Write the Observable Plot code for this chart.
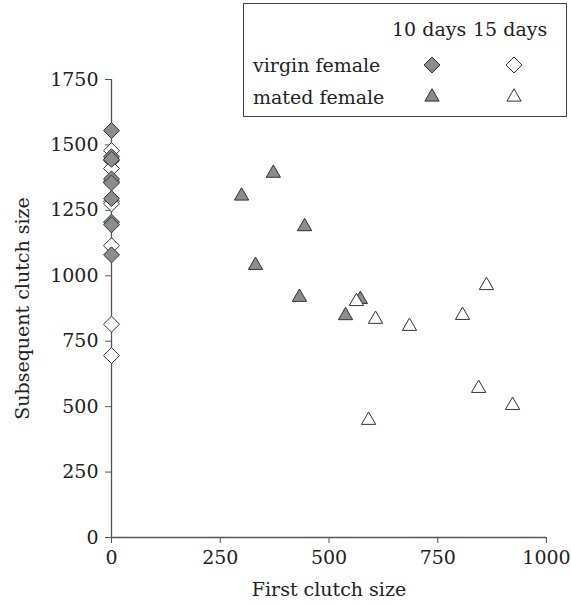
<!DOCTYPE html>
<html>
<head>
<meta charset="utf-8">
<script src="https://cdn.jsdelivr.net/npm/d3@7"></script>
<script src="https://cdn.jsdelivr.net/npm/@observablehq/plot@0.6"></script>
<style>
  body { margin: 0; background: #fff; }
  #wrap { position: relative; width: 571px; height: 605px; font-family: "DejaVu Serif", serif; color: #222; }
  #legend { position: absolute; left: 243px; top: 3px; width: 322px; height: 112px; border: 1px solid #444; background: #fff; font-size: 19px; }
  #legend .t { position: absolute; white-space: nowrap; line-height: 1; }
  #legend svg { position: absolute; overflow: visible; }
</style>
</head>
<body>
<div id="wrap"></div>
<script>
// Data
const xTicks = [0, 250, 500, 750, 1000];
const yTicks = [0, 250, 500, 750, 1000, 1250, 1500, 1750];

const virgin10First = [0, 0, 0, 0, 0, 0, 0, 0, 0];
const virgin10Subsequent = [1555, 1455, 1445, 1370, 1355, 1295, 1205, 1195, 1080];

const virgin15First = [0, 0, 0, 0, 0, 0, 0, 0, 0];
const virgin15Subsequent = [1478, 1440, 1410, 1360, 1285, 1275, 1115, 815, 695];

const mated10First = [299, 372, 444, 331, 432, 572, 538];
const mated10Subsequent = [1305, 1392, 1188, 1040, 918, 910, 848];

const mated15First = [563, 607, 685, 807, 862, 844, 922, 591];
const mated15Subsequent = [902, 834, 807, 849, 963, 570, 505, 448];

const legendCols = ["10 days", "15 days"];
const legendRows = ["virgin female", "mated female"];

const toRows = (xs, ys) => xs.map((x, i) => ({x, y: ys[i]}));
const v10 = toRows(virgin10First, virgin10Subsequent);
const v15 = toRows(virgin15First, virgin15Subsequent);
const m10 = toRows(mated10First, mated10Subsequent);
const m15 = toRows(mated15First, mated15Subsequent);

const fillGrey = "#8c8c8c";
const strokeCol = "#333";

const chart = Plot.plot({
  width: 571,
  height: 605,
  marginLeft: 111,
  marginRight: 25,
  marginTop: 79,
  marginBottom: 68,
  style: { fontFamily: "DejaVu Serif", fontSize: "19px", color: "#222", background: "transparent" },
  x: { domain: [0, 1000] },
  y: { domain: [0, 1750] },
  marks: [
    Plot.ruleX([0], { stroke: "#555", strokeWidth: 1.3 }),
    Plot.ruleY([0], { stroke: "#555", strokeWidth: 1.3 }),
    Plot.axisX({ ticks: xTicks, tickFormat: "d", tickSize: 6, tickPadding: 7, stroke: "#555", fontSize: 19, label: "First clutch size", labelAnchor: "center", labelArrow: "none", labelOffset: 58 }),
    Plot.axisY({ ticks: yTicks, tickFormat: "d", tickSize: 6, tickPadding: 7, stroke: "#555", fontSize: 19, label: "Subsequent clutch size", labelAnchor: "center", labelArrow: "none", labelOffset: 96 }),
    Plot.dot(v15, { x: "x", y: "y", symbol: "diamond2", r: 7.2, fill: "white", stroke: strokeCol, strokeWidth: 1 }),
    Plot.dot(v10, { x: "x", y: "y", symbol: "diamond2", r: 7.2, fill: fillGrey, stroke: strokeCol, strokeWidth: 1 }),
    Plot.dot(m10, { x: "x", y: "y", symbol: "triangle", r: 5.3, fill: fillGrey, stroke: strokeCol, strokeWidth: 1 }),
    Plot.dot(m15, { x: "x", y: "y", symbol: "triangle", r: 5.3, fill: "white", stroke: strokeCol, strokeWidth: 1 })
  ]
});

const wrap = document.getElementById("wrap");
wrap.appendChild(chart);
chart.style.position = "absolute";
chart.style.left = "0";
chart.style.top = "0";

// Legend
const legend = document.createElement("div");
legend.id = "legend";
wrap.appendChild(legend);
legendCols.forEach((c, i) => {
  const s = document.createElement("span");
  s.className = "t";
  s.textContent = c;
  s.style.left = (i === 0 ? 148 : 229) + "px";
  s.style.top = "16px";
  legend.appendChild(s);
});
legendRows.forEach((r, i) => {
  const s = document.createElement("span");
  s.className = "t";
  s.textContent = r;
  s.style.left = "9px";
  s.style.top = (52 + i * 32) + "px";
  legend.appendChild(s);
});
const symCenters = [188, 270];
const symDefs = [
  [{ type: d3.symbolDiamond2, size: Math.PI * 7.2 * 7.2, fill: fillGrey }, { type: d3.symbolDiamond2, size: Math.PI * 7.2 * 7.2, fill: "white" }],
  [{ type: d3.symbolTriangle, size: Math.PI * 5.3 * 5.3, fill: fillGrey }, { type: d3.symbolTriangle, size: Math.PI * 5.3 * 5.3, fill: "white" }]
];
symDefs.forEach((row, ri) => {
  row.forEach((d, ci) => {
    const svg = d3.create("svg").attr("width", 1).attr("height", 1)
      .style("left", symCenters[ci] + "px").style("top", (61 + ri * 32) + "px");
    svg.append("path").attr("d", d3.symbol(d.type, d.size)())
      .attr("fill", d.fill).attr("stroke", strokeCol).attr("stroke-width", 1);
    legend.appendChild(svg.node());
  });
});
</script>
</body>
</html>
